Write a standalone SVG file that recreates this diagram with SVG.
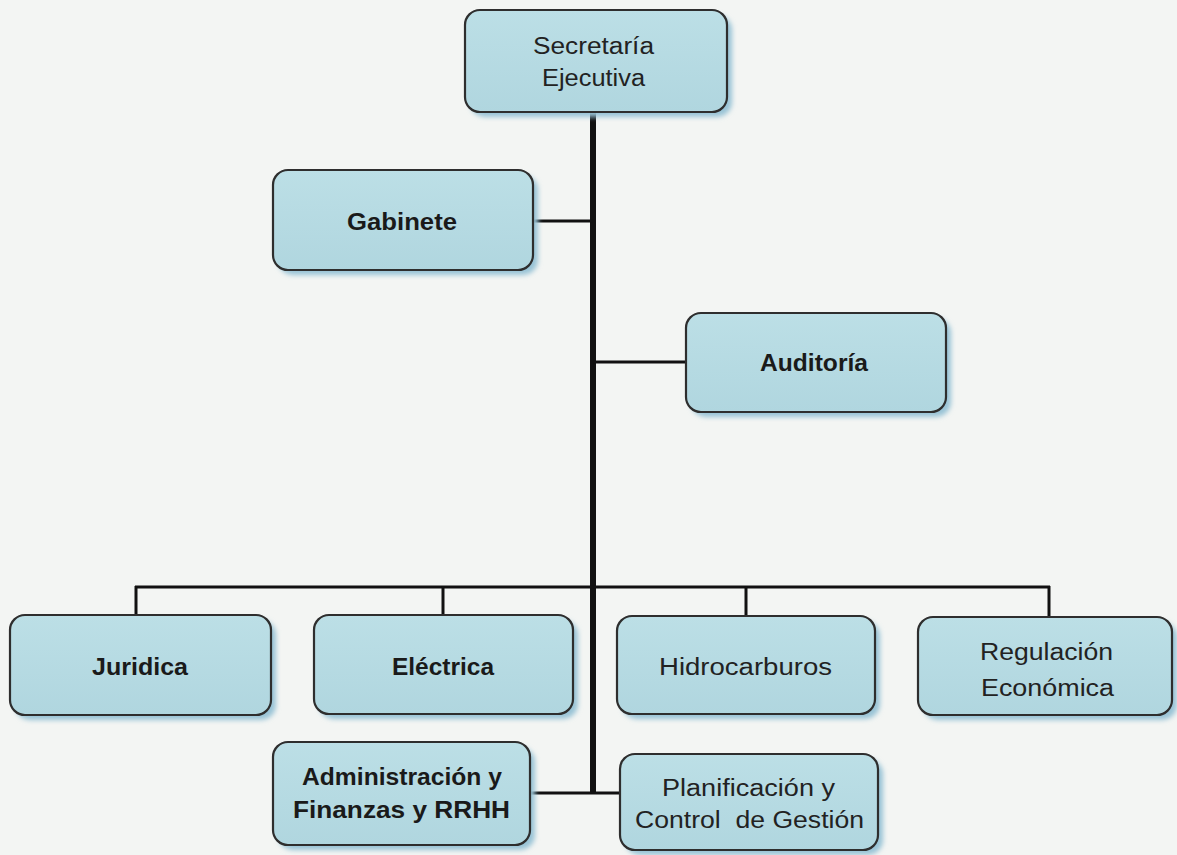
<svg xmlns="http://www.w3.org/2000/svg" width="1177" height="855" viewBox="0 0 1177 855">
<defs>
<filter id="sh" x="-10%" y="-10%" width="130%" height="140%">
<feGaussianBlur stdDeviation="2.5"/>
</filter>
<linearGradient id="bg" x1="0" y1="0" x2="0" y2="1">
<stop offset="0" stop-color="#bcdfe6"/>
<stop offset="1" stop-color="#b0d6df"/>
</linearGradient>
</defs>
<style>
.box{fill:url(#bg);stroke:#2e2e2e;stroke-width:2.2}
.shadow{fill:#98c3d6;filter:url(#sh)}
.t{font-family:"Liberation Sans",Arial,sans-serif;font-size:23px;fill:#222;text-anchor:start}
.b{font-weight:bold;fill:#1a1a1a}
.trunk{stroke:#111;stroke-width:6;fill:none}
.ln{stroke:#111;stroke-width:3;fill:none}
</style>
<rect width="1177" height="855" fill="#f3f5f3"/>
<g id="connectors">
<line class="trunk" x1="593" y1="112" x2="593" y2="794"/>
<line class="ln" x1="533" y1="221" x2="593" y2="221"/>
<line class="ln" x1="593" y1="362" x2="686" y2="362"/>
<line class="ln" x1="135" y1="587" x2="1050" y2="587"/>
<line class="ln" x1="136" y1="586" x2="136" y2="615"/>
<line class="ln" x1="443" y1="586" x2="443" y2="615"/>
<line class="ln" x1="746" y1="586" x2="746" y2="616"/>
<line class="ln" x1="1049" y1="586" x2="1049" y2="617"/>
<line class="ln" x1="530" y1="793" x2="620" y2="793"/>
</g>
<g id="secretaria">
<rect class="shadow" x="470" y="15" width="262" height="102" rx="15"/>
<rect class="box" x="465" y="10" width="262" height="102" rx="15"/>
<text class="t" x="533" y="54" textLength="121" lengthAdjust="spacingAndGlyphs">Secretaría</text>
<text class="t" x="542" y="86" textLength="103" lengthAdjust="spacingAndGlyphs">Ejecutiva</text>
</g>
<g id="gabinete">
<rect class="shadow" x="278" y="175" width="260" height="100" rx="15"/>
<rect class="box" x="273" y="170" width="260" height="100" rx="15"/>
<text class="t b" x="347" y="230" textLength="110" lengthAdjust="spacingAndGlyphs">Gabinete</text>
</g>
<g id="auditoria">
<rect class="shadow" x="691" y="318" width="260" height="99" rx="15"/>
<rect class="box" x="686" y="313" width="260" height="99" rx="15"/>
<text class="t b" x="760" y="371" textLength="108" lengthAdjust="spacingAndGlyphs">Auditoría</text>
</g>
<g id="juridica">
<rect class="shadow" x="15" y="620" width="261" height="100" rx="15"/>
<rect class="box" x="10" y="615" width="261" height="100" rx="15"/>
<text class="t b" x="92" y="675" textLength="96" lengthAdjust="spacingAndGlyphs">Juridica</text>
</g>
<g id="electrica">
<rect class="shadow" x="319" y="620" width="259" height="99" rx="15"/>
<rect class="box" x="314" y="615" width="259" height="99" rx="15"/>
<text class="t b" x="392" y="675" textLength="102" lengthAdjust="spacingAndGlyphs">Eléctrica</text>
</g>
<g id="hidrocarburos">
<rect class="shadow" x="622" y="621" width="258" height="98" rx="15"/>
<rect class="box" x="617" y="616" width="258" height="98" rx="15"/>
<text class="t" x="659" y="675" textLength="173" lengthAdjust="spacingAndGlyphs">Hidrocarburos</text>
</g>
<g id="regulacion">
<rect class="shadow" x="923" y="622" width="254" height="98" rx="15"/>
<rect class="box" x="918" y="617" width="254" height="98" rx="15"/>
<text class="t" x="980" y="660" textLength="133" lengthAdjust="spacingAndGlyphs">Regulación</text>
<text class="t" x="981" y="696" textLength="133" lengthAdjust="spacingAndGlyphs">Económica</text>
</g>
<g id="administracion">
<rect class="shadow" x="278" y="747" width="257" height="103" rx="15"/>
<rect class="box" x="273" y="742" width="257" height="103" rx="15"/>
<text class="t b" x="302" y="785" textLength="200" lengthAdjust="spacingAndGlyphs">Administración y</text>
<text class="t b" x="293" y="818" textLength="217" lengthAdjust="spacingAndGlyphs">Finanzas y RRHH</text>
</g>
<g id="planificacion">
<rect class="shadow" x="625" y="759" width="258" height="96" rx="15"/>
<rect class="box" x="620" y="754" width="258" height="96" rx="15"/>
<text class="t" x="662" y="796" textLength="173" lengthAdjust="spacingAndGlyphs">Planificación y</text>
<text class="t" x="635" y="828" textLength="229" lengthAdjust="spacingAndGlyphs">Control&#160; de Gestión</text>
</g>
</svg>
